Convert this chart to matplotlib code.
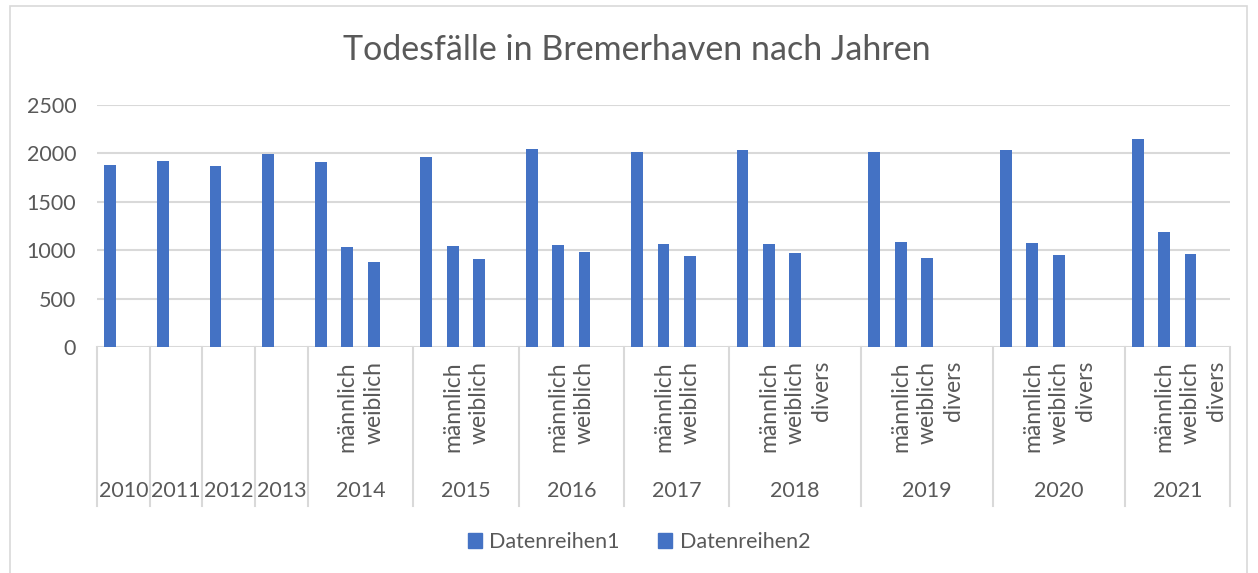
import matplotlib
matplotlib.use("Agg")
import matplotlib.pyplot as plt
from matplotlib.patches import Rectangle, Patch
from matplotlib.transforms import blended_transform_factory

# data
years = [2010, 2011, 2012, 2013, 2014, 2015, 2016, 2017, 2018, 2019, 2020, 2021]
totals = [1883, 1925, 1866, 1997, 1907, 1959, 2041, 2010, 2034, 2010, 2031, 2148]
maennlich = [None, None, None, None, 1028, 1041, 1052, 1062, 1062, 1083, 1076, 1188]
weiblich = [None, None, None, None, 873, 914, 986, 938, 972, 921, 948, 961]
divers = [None, None, None, None, None, None, None, None, 0, 0, 0, 0]

# leaf categories inside each year (as the Excel range had them)
sub_labels = [
    ["", ""], ["", ""], ["", ""], ["", ""],
    ["", "männlich", "weiblich", ""], ["", "männlich", "weiblich", ""],
    ["", "männlich", "weiblich", ""], ["", "männlich", "weiblich", ""],
    ["", "männlich", "weiblich", "divers", ""], ["", "männlich", "weiblich", "divers", ""],
    ["", "männlich", "weiblich", "divers", ""], ["", "männlich", "weiblich", "divers"],
]
series_names = ["Datenreihen1", "Datenreihen2"]

BLUE = "#4472C4"
GRID = "#d9d9d9"
TXT = "#595959"
FONT = "Lato"

W, H = 1258, 573
fig = plt.figure(figsize=(W / 100, H / 100), dpi=100)
plt.rcParams["font.family"] = [FONT, "DejaVu Sans"]

def fx(px):
    return px / W

def fy(py):
    return 1 - py / H

# chart frame
fig.patches.append(Rectangle((fx(10), fy(580)), fx(1247) - fx(10), fy(6) - fy(580),
                             transform=fig.transFigure, fill=False, edgecolor=GRID, lw=1.2))

ax = fig.add_axes([fx(97), fy(347), fx(1230) - fx(97), fy(105) - fy(347)])

# build slot positions from the category structure
x1, v1, x2, v2 = [], [], [], []
label_pos, label_txt, group_edges, group_centers = [], [], [0], []
pos = 0
for i, subs in enumerate(sub_labels):
    start = pos
    for j, lab in enumerate(subs):
        c = pos + 0.5
        if j == 0:
            x1.append(c)
            v1.append(totals[i])
        elif lab == "männlich" and maennlich[i] is not None:
            x2.append(c); v2.append(maennlich[i])
        elif lab == "weiblich" and weiblich[i] is not None:
            x2.append(c); v2.append(weiblich[i])
        elif lab == "divers" and divers[i] is not None:
            x2.append(c); v2.append(divers[i])
        if lab:
            label_pos.append(c)
            label_txt.append(lab)
        pos += 1
    group_edges.append(pos)
    group_centers.append((start + pos) / 2)

ax.bar(x1, v1, width=0.45, color=BLUE, zorder=3)
ax.bar(x2, v2, width=0.45, color=BLUE, zorder=3)

ax.set_xlim(0, pos)
ax.set_ylim(0, 2500)
ax.set_yticks(range(0, 2501, 500))
ax.yaxis.grid(True, color=GRID, lw=1.5, zorder=0)
ax.set_axisbelow(True)
ax.set_xticks([])
for s in ax.spines.values():
    s.set_visible(False)
ax.tick_params(axis="y", length=0, pad=15, labelsize=15.5, labelcolor=TXT)
for t in ax.get_yticklabels():
    t.set_fontfamily(FONT)

# category axis: separators and two label levels
trans = blended_transform_factory(ax.transData, fig.transFigure)
for e in group_edges:
    ax.plot([e, e], [fy(347), fy(506)], transform=trans, color=GRID, lw=1.5,
            clip_on=False, zorder=1)
for c, lab in zip(label_pos, label_txt):
    ax.text(c, fy(361), lab, transform=trans, rotation=90, ha="center", va="top",
            fontsize=16.5, color=TXT)
for c, y in zip(group_centers, years):
    ax.text(c, fy(491), str(y), transform=trans, ha="center", va="center",
            fontsize=15.5, color=TXT)

fig.text(0.506, fy(50), "Todesfälle in Bremerhaven nach Jahren", ha="center", va="center",
         fontsize=24.5, color=TXT)

handles = [Patch(color=BLUE, label=n) for n in series_names]
fig.legend(handles=handles, loc="center", bbox_to_anchor=(0.508, fy(542)), ncol=2,
           frameon=False, fontsize=15.5, labelcolor=TXT, handlelength=0.65, handleheight=0.65,
           handletextpad=0.35, columnspacing=1.8)

fig.savefig("out.png", dpi=100)
